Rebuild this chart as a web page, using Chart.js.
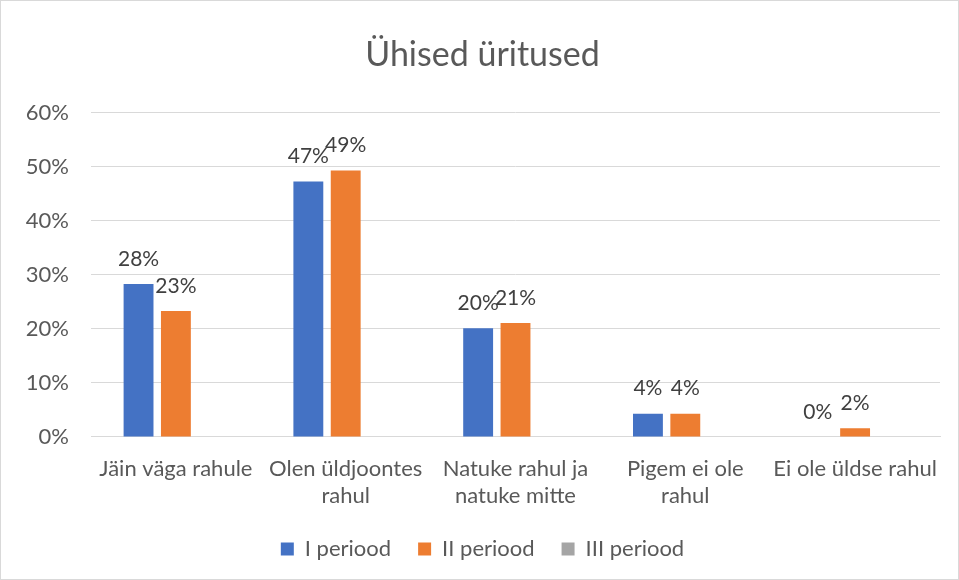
<!DOCTYPE html>
<html>
<head>
<meta charset="utf-8">
<script src="https://cdn.jsdelivr.net/npm/chart.js@4/dist/chart.umd.min.js"></script>
<style>
  html, body { margin: 0; padding: 0; background: #fff; }
  .wrap { position: relative; width: 957px; height: 578px; border: 1px solid #D9D9D9; }
</style>
</head>
<body>
<div class="wrap"><canvas id="chart" width="957" height="578"></canvas></div>
<script>
// Data
const categories = [
  'Jäin väga rahule',
  ['Olen üldjoontes', 'rahul'],
  ['Natuke rahul ja', 'natuke mitte'],
  ['Pigem ei ole', 'rahul'],
  'Ei ole üldse rahul'
];
const period1 = [28.3, 47.3, 20.1, 4.3, 0];
const period2 = [23.3, 49.3, 21.1, 4.3, 1.6];
const period3 = [null, null, null, null, null];
const yTicks = [0, 10, 20, 30, 40, 50, 60];

const FONT = "Lato, 'Open Sans', sans-serif";
const textColor = '#595959';

// Draws the percentage labels above each bar
const barLabels = {
  id: 'barLabels',
  afterDatasetsDraw(chart) {
    const ctx = chart.ctx;
    ctx.save();
    ctx.font = `21px ${FONT}`;
    ctx.fillStyle = '#404040';
    ctx.textAlign = 'center';
    ctx.textBaseline = 'middle';
    chart.data.datasets.forEach((ds, i) => {
      const meta = chart.getDatasetMeta(i);
      meta.data.forEach((bar, j) => {
        const v = ds.data[j];
        if (v === null || v === undefined) return;
        ctx.fillText(Math.round(v) + '%', bar.x, bar.y - 25);
      });
    });
    ctx.restore();
  }
};

new Chart(document.getElementById('chart'), {
  type: 'bar',
  data: {
    labels: categories,
    datasets: [
      { label: 'I periood', data: period1, backgroundColor: '#4472C4' },
      { label: 'II periood', data: period2, backgroundColor: '#ED7D31' },
      { label: 'III periood', data: period3, backgroundColor: '#A5A5A5' }
    ]
  },
  options: {
    responsive: false,
    animation: false,
    layout: { padding: { left: 24, right: 18, top: 34, bottom: 9 } },
    datasets: {
      bar: { barPercentage: 0.8, categoryPercentage: 0.66 }
    },
    plugins: {
      title: {
        display: true,
        text: 'Ühised üritused',
        color: textColor,
        font: { family: FONT, size: 34, weight: 'normal' },
        padding: { top: 0, bottom: 37 }
      },
      legend: {
        position: 'bottom',
        labels: {
          color: textColor,
          boxWidth: 13,
          boxHeight: 13,
          padding: 27,
          font: { family: FONT, size: 22 }
        }
      },
      tooltip: { enabled: false }
    },
    scales: {
      x: {
        grid: { display: false, tickLength: 17 },
        border: { color: '#D9D9D9' },
        ticks: {
          color: textColor,
          maxRotation: 0,
          autoSkip: false,
          padding: 1.5,
          font: { family: FONT, size: 22, lineHeight: 1.23 }
        }
      },
      y: {
        min: 0,
        max: 60,
        afterFit: s => { s.width = 66; },
        afterBuildTicks: s => { s.ticks = yTicks.map(v => ({ value: v })); },
        grid: { color: '#D9D9D9', drawTicks: false },
        border: { display: false },
        ticks: {
          color: textColor,
          padding: 22,
          font: { family: FONT, size: 22 },
          callback: v => v + '%'
        }
      }
    }
  },
  plugins: [barLabels]
});
</script>
</body>
</html>
